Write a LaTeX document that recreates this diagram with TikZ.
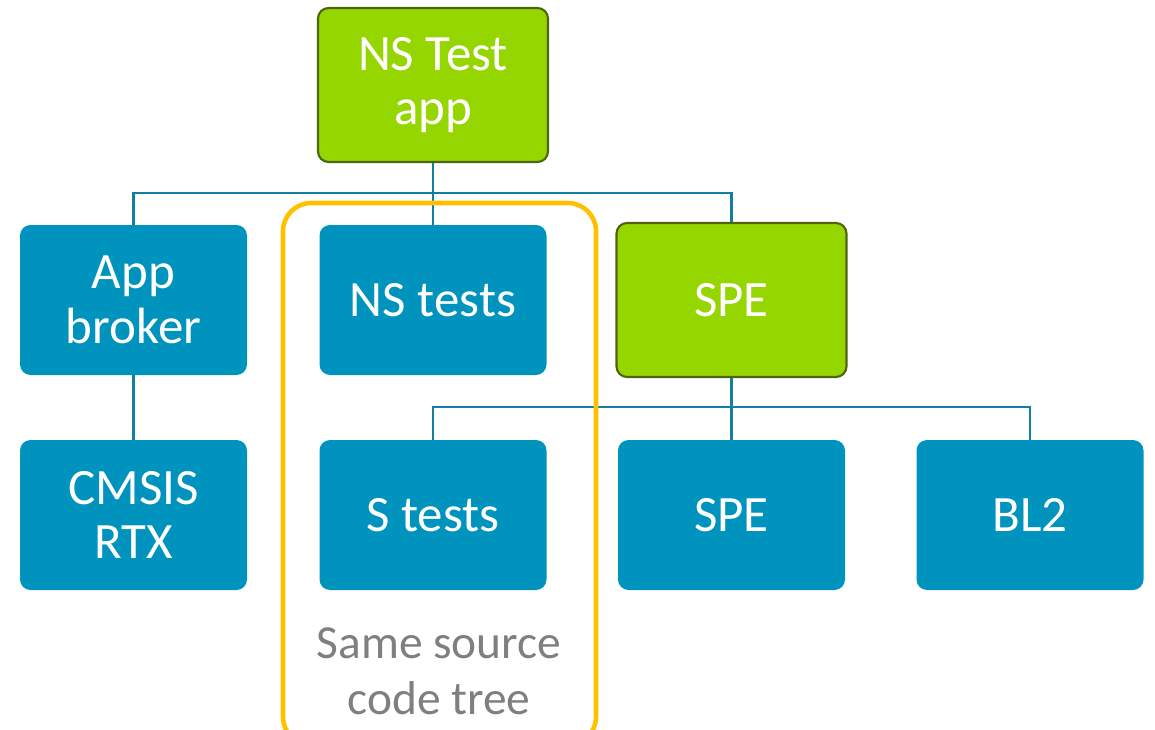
\documentclass[tikz,border=0pt]{standalone}
\usepackage{fontspec}
\setmainfont{Carlito}
\usepackage{tikz}
\usetikzlibrary{positioning}
\definecolor{nodeblue}{HTML}{0093BE}
\definecolor{appgreen}{HTML}{96D600}
\definecolor{greenedge}{HTML}{4E6410}
\definecolor{linkblue}{HTML}{117FA0}
\definecolor{treeyellow}{HTML}{FFC000}
\definecolor{notegray}{HTML}{7F7F7F}

\begin{document}
\begin{tikzpicture}[font=\fontsize{29}{31}\selectfont,
  blk/.style={rounded corners=6pt, align=center, text=white, fill=nodeblue, minimum width=4.54cm, minimum height=3.0cm, inner sep=2pt},
  grn/.style={blk, fill=appgreen, draw=greenedge, line width=1.2pt, minimum width=4.6cm, minimum height=3.08cm},
  link/.style={draw=linkblue, line width=1.4pt},
  note/.style={align=center, text=notegray, font=\fontsize{27}{32}\selectfont}]
\useasboundingbox (0,0) rectangle (23.1,-14.58);
\node[grn] (nsapp) at (8.66,-1.7) {NS Test\\app};
\node[blk] (broker) at (2.67,-6.0) {App\\broker};
\node[blk] (nstests) at (8.66,-6.0) {NS tests};
\node[grn] (spe) at (14.63,-6.0) {SPE};
\node[blk] (cmsis) at (2.67,-10.3) {CMSIS\\RTX};
\node[blk] (stests) at (8.66,-10.3) {S tests};
\node[blk] (spe2) at (14.63,-10.3) {SPE};
\node[blk] (bl2) at (20.6,-10.3) {BL2};
\coordinate (bus1) at (0,-3.86);
\coordinate (bus2) at (0,-8.14);
% top level
\draw[link] (nsapp.south) -- (nstests.north);
\draw[link] (broker.north) -- (broker.north |- bus1) -| (spe.north);
\draw[link] (broker.south) -- (cmsis.north);
% spe level
\draw[link] (spe.south) -- (spe2.north);
\draw[link] (stests.north) -- (stests.north |- bus2) -| (bl2.north);
% same source tree
\node[note] (same) at (8.78,-13.42) {Same source\\code tree};
\draw[treeyellow, line width=2.6pt, rounded corners=16pt] (5.66,-4.06) rectangle (11.92,-14.9);
\end{tikzpicture}
\end{document}
